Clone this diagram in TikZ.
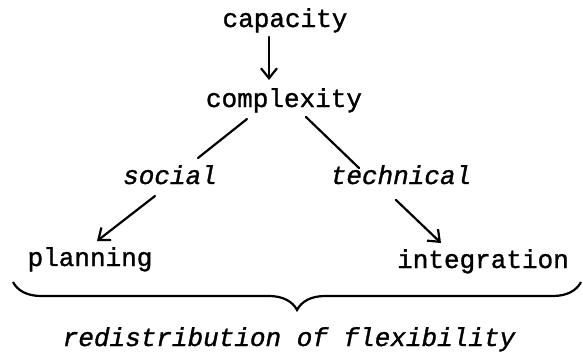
\documentclass[tikz,border=0pt]{standalone}
\usepackage{fontspec}
\setmainfont{Liberation Mono}[FakeBold=1.2]
\usetikzlibrary{arrows.meta,calc,decorations.pathreplacing}
\tikzset{
  lbl/.style={inner sep=0pt, anchor=base, font=\fontsize{26}{30}\selectfont},
  ilbl/.style={lbl, font=\fontsize{26}{30}\selectfont\itshape},
  conn/.style={line width=2.2pt, line cap=round},
  arr/.style={conn, -{Straight Barb[length=10pt,width=16pt,line width=2.2pt]}},
  bracestyle/.style={line width=2.2pt, decorate, decoration={brace, amplitude=28pt, aspect=0.5}}
}
\begin{document}
\begin{tikzpicture}[x=1pt,y=-1pt]
\useasboundingbox (0,0) rectangle (583,354);
\node[lbl] (cap) at (285,27) {capacity};
\node[lbl] (cplx) at (284,107) {complexity};
\node[ilbl] (soc) at (170,184) {social};
\node[ilbl] (tech) at (401,184) {technical};
\node[lbl] (plan) at (90,266) {planning};
\node[lbl] (integ) at (483,268) {integration};
\node[ilbl] (redis) at (289,346) {redistribution of flexibility};
\draw[arr] ($(cap.base)+(-16,10)$) -- ($(cplx.base)+(-15,-27)$);
\draw[conn] ($(cplx.base)+(-37,12)$) -- ($(soc.base)+(28,-26)$);
\draw[conn] ($(cplx.base)+(22,10)$) -- ($(tech.base)+(-42,-16)$);
\draw[arr] ($(soc.base)+(-15,12)$) -- ($(plan.base)+(7,-25)$);
\draw[arr] ($(tech.base)+(-5,16)$) -- ($(integ.base)+(-42,-25)$);
\coordinate (brL) at ($(plan.base)+(-77,16)$);
\coordinate (brR) at ($(integ.base)+(98,14)$);
\draw[bracestyle] (brR) -- (brL);
\end{tikzpicture}
\end{document}
